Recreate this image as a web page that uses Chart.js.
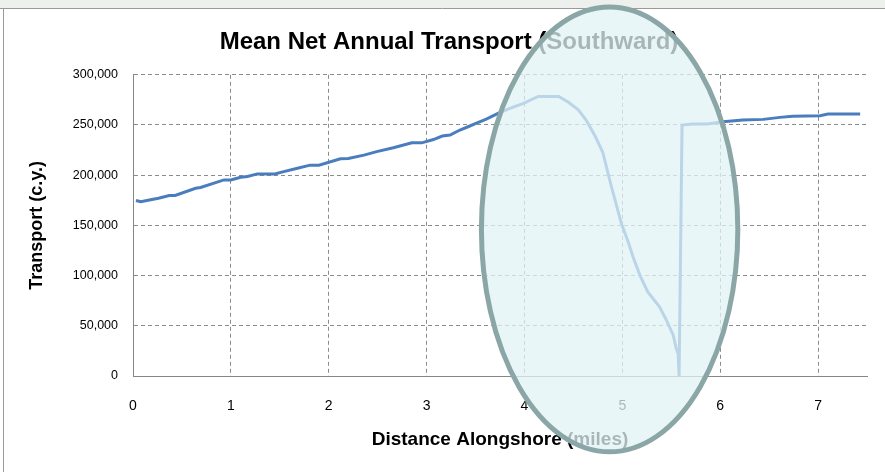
<!DOCTYPE html>
<html>
<head>
<meta charset="utf-8">
<script src="https://cdn.jsdelivr.net/npm/chart.js@4.4.1/dist/chart.umd.min.js"></script>
<style>
  html, body { margin: 0; padding: 0; background: #fff; }
  #wrap { width: 885px; height: 472px; position: relative; }
</style>
</head>
<body>
<div id="wrap"><canvas id="c"></canvas></div>
<script>
Chart.defaults.font.family = "'Liberation Sans', Arial, sans-serif";
Chart.defaults.color = '#000';

// distance alongshore (miles)
const distance = [
  0.03, 0.08, 0.18, 0.26, 0.37, 0.43, 0.64, 0.69, 0.93, 1.0,
  1.10, 1.17, 1.27, 1.45, 1.54, 1.68, 1.81, 1.90, 2.12, 2.20,
  2.36, 2.49, 2.66, 2.85, 2.95, 3.07, 3.16, 3.24, 3.34, 3.43,
  3.51, 3.61, 3.73, 3.85, 3.99, 4.14, 4.35, 4.45, 4.55, 4.63,
  4.72, 4.80, 4.89, 4.99, 5.06, 5.11, 5.18, 5.26, 5.38, 5.45,
  5.52, 5.55, 5.57, 5.58, 5.61, 5.72, 5.87, 6.03, 6.23, 6.44,
  6.61, 6.74, 7.02, 7.10, 7.43
];
// mean net annual transport (c.y.)
const transport = [
  174800, 173500, 175500, 177000, 179800, 179800, 187000, 187800, 195300, 195300,
  198000, 198700, 201300, 201300, 203600, 207000, 210000, 210000, 216300, 216600,
  220000, 223500, 227300, 232200, 232200, 235500, 239000, 240000, 245000, 248500,
  251800, 255800, 261500, 266500, 271600, 278500, 278500, 272600, 265000, 255000,
  239400, 222800, 188000, 152000, 133400, 118500, 100300, 83700, 68800, 55600,
  40700, 27500, 22500, 0, 250000, 251000, 251000, 253300, 255000, 255600,
  257600, 258600, 259300, 261000, 261000
];
const xTicks = [0, 1, 2, 3, 4, 5, 6, 7];

// highlight ellipse, in data units
const ring = { cx: 4.87, cy: 146000, rx: 1.31, ry: 221500 };

const slideFrame = {
  id: 'slideFrame',
  beforeDraw(chart) {
    const ctx = chart.ctx;
    ctx.save();
    ctx.fillStyle = '#eef0ed';
    ctx.fillRect(0, 0, chart.width, 8);
    ctx.strokeStyle = '#9a9a9a';
    ctx.lineWidth = 1;
    ctx.beginPath();
    ctx.moveTo(0, 8.5);
    ctx.lineTo(chart.width, 8.5);
    ctx.moveTo(3.5, 8.5);
    ctx.lineTo(3.5, chart.height);
    ctx.stroke();
    ctx.restore();
  },
};

const highlight = {
  id: 'highlight',
  afterDraw(chart) {
    const { ctx, scales: { x, y } } = chart;
    const cx = x.getPixelForValue(ring.cx);
    const cy = y.getPixelForValue(ring.cy);
    const rx = x.getPixelForValue(ring.cx + ring.rx) - cx;
    const ry = cy - y.getPixelForValue(ring.cy + ring.ry);
    ctx.save();
    ctx.beginPath();
    ctx.ellipse(cx, cy, rx, ry, 0, 0, Math.PI * 2);
    ctx.fillStyle = 'rgba(224,243,246,0.75)';
    ctx.fill();
    ctx.lineWidth = 5;
    ctx.strokeStyle = '#8ba6a6';
    ctx.stroke();
    ctx.restore();
  },
};

new Chart(document.getElementById('c'), {
  type: 'line',
  data: {
    datasets: [{
      data: distance.map((d, i) => ({ x: d, y: transport[i] })),
      borderColor: '#4a7dbe',
      borderWidth: 3,
      pointRadius: 0,
      tension: 0,
      fill: false,
    }],
  },
  options: {
    responsive: true,
    maintainAspectRatio: false,
    animation: false,
    layout: { padding: { left: 31, right: 18, top: 0, bottom: 0 } },
    plugins: {
      legend: { display: false },
      tooltip: { enabled: false },
      title: {
        display: true,
        text: 'Mean Net Annual Transport (Southward)',
        font: { size: 24, weight: 'bold' },
        color: '#000',
        padding: { top: 28, bottom: 18 },
      },
    },
    scales: {
      x: {
        type: 'linear',
        min: 0,
        max: 7.5,
        afterBuildTicks: s => { s.ticks = xTicks.map(v => ({ value: v })); },
        afterFit: s => { s.height = 96; },
        ticks: { font: { size: 14 }, color: '#000', padding: 22 },
        grid: { color: '#8c8c8c', lineWidth: 1, drawTicks: false },
        border: { color: '#868686', width: 1, dash: [4, 3] },
        title: {
          display: true,
          text: 'Distance Alongshore (miles)',
          font: { size: 19, weight: 'bold' },
          color: '#000',
          padding: { bottom: 21 },
        },
      },
      y: {
        min: 0,
        max: 300000,
        afterFit: s => { s.width = 102; },
        ticks: {
          stepSize: 50000,
          font: { size: 12.5 },
          color: '#000',
          padding: 15,
          callback: v => v.toLocaleString('en-US'),
        },
        grid: { color: '#8c8c8c', lineWidth: 1, drawTicks: false },
        border: { color: '#868686', width: 1, dash: [4, 3] },
        title: {
          display: true,
          text: 'Transport (c.y.)',
          font: { size: 18, weight: 'bold' },
          color: '#000',
          padding: { top: -5 },
        },
      },
    },
  },
  plugins: [slideFrame, highlight],
});
</script>
</body>
</html>
